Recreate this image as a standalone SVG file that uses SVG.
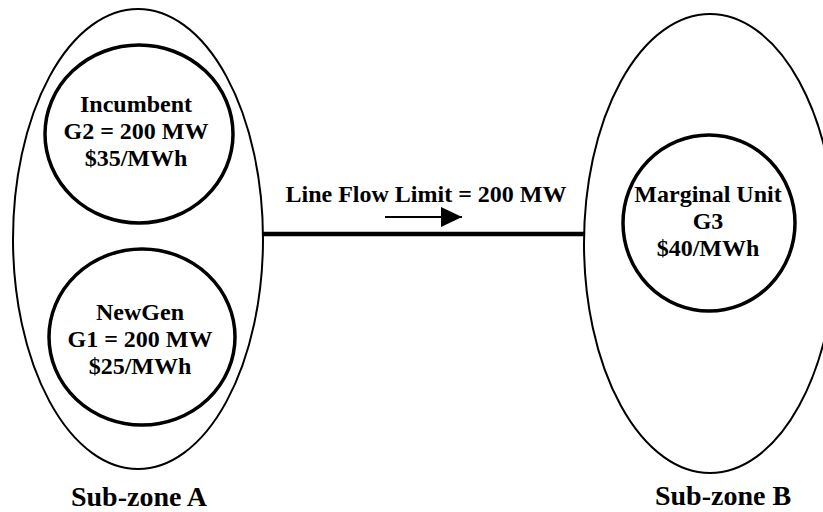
<svg xmlns="http://www.w3.org/2000/svg" width="823" height="512" viewBox="0 0 823 512">
  <defs>
    <style>
      .zone { fill: none; stroke: #000; stroke-width: 2; }
      .gen { fill: none; stroke: #000; stroke-width: 3.5; }
      .t { font-family: "Liberation Serif", "Times New Roman", serif; font-weight: bold; font-size: 24px; fill: #000; text-anchor: middle; }
      .zl { font-size: 28px; }
      .line { stroke: #000; stroke-width: 4.5; fill: none; }
      .arrow { stroke: #000; stroke-width: 2; fill: none; }
    </style>
    <marker id="ah" markerUnits="userSpaceOnUse" markerWidth="22" markerHeight="20" refX="21" refY="10" orient="auto">
      <path d="M0,0 L21,10 L0,20 Z" fill="#000"/>
    </marker>
  </defs>
  <rect width="823" height="512" fill="#fff"/>

  <g id="subzone-a">
    <ellipse class="zone" cx="138" cy="239" rx="125" ry="230"/>
    <text class="t zl" x="139" y="506">Sub-zone A</text>
  </g>

  <g id="subzone-b">
    <ellipse class="zone" cx="710" cy="243.5" rx="126" ry="229.5"/>
    <text class="t zl" x="723" y="505">Sub-zone B</text>
  </g>

  <g id="incumbent">
    <ellipse class="gen" cx="139" cy="134" rx="94" ry="89"/>
    <text class="t" x="136" y="112">Incumbent</text>
    <text class="t" x="136" y="139">G2 = 200 MW</text>
    <text class="t" x="136" y="166">$35/MWh</text>
  </g>

  <g id="newgen">
    <ellipse class="gen" cx="142" cy="337" rx="93" ry="88"/>
    <text class="t" x="140" y="320">NewGen</text>
    <text class="t" x="140" y="347">G1 = 200 MW</text>
    <text class="t" x="140" y="374">$25/MWh</text>
  </g>

  <g id="marginal-unit">
    <ellipse class="gen" cx="709" cy="223" rx="86" ry="88"/>
    <text class="t" x="708" y="202">Marginal Unit</text>
    <text class="t" x="708" y="229">G3</text>
    <text class="t" x="708" y="256">$40/MWh</text>
  </g>

  <g id="connectors">
    <line class="line" x1="263" y1="234" x2="584" y2="234"/>
    <line class="arrow" x1="385" y1="217" x2="462" y2="217" marker-end="url(#ah)"/>
    <text class="t" x="426" y="202">Line Flow Limit = 200 MW</text>
  </g>
</svg>
